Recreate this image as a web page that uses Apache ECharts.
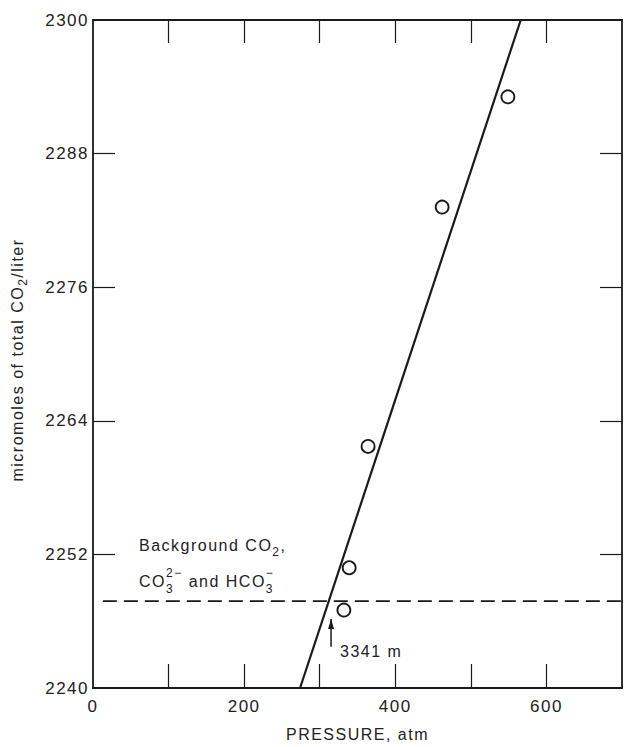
<!DOCTYPE html>
<html>
<head>
<meta charset="utf-8">
<script src="https://cdn.jsdelivr.net/npm/echarts@6/dist/echarts.min.js"></script>
<style>
  html, body { margin: 0; padding: 0; background: #fff; }
  #chart { width: 624px; height: 747px; }
  /* typeset-style tracking for every label */
  #chart svg text { letter-spacing: 1.5px; }
</style>
</head>
<body>
<div id="chart"></div>
<script>
// Measured samples: pressure (atm) and total CO2 (micromoles/liter)
const pressureAtm = [549, 462, 364, 339, 332];
const totalCO2 = [2293.1, 2283.2, 2261.7, 2250.8, 2247.0];

// Fitted line end points
const fitPressure = [274, 566];
const fitCO2 = [2240, 2300];

// Background level (dashed) and the pressure range it spans
const backgroundCO2 = 2247.8;
const backgroundPressure = [13, 700];

// Depth marker (3341 m) arrow
const depthPressure = 315;
const depthArrowCO2 = [2243.7, 2246.2];

// Axis ticks and labels
const xLabelValues = [0, 200, 400, 600];
const xTickValues = [100, 200, 300, 400, 500, 600];
const yLabelValues = [2240, 2252, 2264, 2276, 2288, 2300];
const yTickValues = [2252, 2264, 2276, 2288];

const FONT = 'Liberation Sans';
const INK = '#1a1a1a';
const TEXT = '#222';
const SPACING = 1.5;

const mctx = document.createElement('canvas').getContext('2d');
function textWidth(s, size) {
  mctx.font = size + 'px "' + FONT + '"';
  return mctx.measureText(s).width + SPACING * s.length;
}

// Lay out a run of text pieces (with sub/superscripts) left to right.
function textRun(parts, x0, yMid) {
  const out = [];
  let x = x0;
  let held = 0;
  parts.forEach(p => {
    const w = textWidth(p.t, p.s);
    out.push({
      type: 'text', silent: true, x: x, y: yMid + (p.dy || 0),
      style: {
        text: p.t, fontSize: p.s, fontFamily: FONT, fill: TEXT,
        align: 'left', verticalAlign: 'middle',
        textAlign: 'left', textVerticalAlign: 'middle'
      }
    });
    if (p.hold) { held = w; }
    else { x += Math.max(w, held); held = 0; }
  });
  return { items: out, width: x - x0 };
}

const chart = echarts.init(document.getElementById('chart'), null, { renderer: 'svg' });

const line1 = textRun([
  { t: 'Background CO', s: 16 },
  { t: '2', s: 12, dy: 7 },
  { t: ',', s: 16 }
], 139, 545);

const line2 = textRun([
  { t: 'CO', s: 16 },
  { t: '2\u2212', s: 12, dy: -8, hold: true },
  { t: '3', s: 12, dy: 8 },
  { t: ' and HCO', s: 16 },
  { t: '\u2212', s: 12, dy: -8, hold: true },
  { t: '3', s: 12, dy: 8 }
], 139, 581);

const depthLabel = textRun([{ t: '3341 m', s: 16 }], 340, 651);

// Rotated y-axis title with a subscript
const yTitleParts = [
  { t: 'micromoles of total CO', s: 16 },
  { t: '2', s: 12, dy: 6 },
  { t: '/liter', s: 16 }
];
const yTitleWidth = textRun(yTitleParts, 0, 0).width;
const yTitle = textRun(yTitleParts, -yTitleWidth / 2, 0);

const axisLine = { show: true, onZero: false, lineStyle: { color: INK, width: 1.8 } };
const tickStyle = { color: INK, width: 1.2 };
const labelStyle = { color: TEXT, fontFamily: FONT, fontSize: 17, formatter: v => String(v) };

const option = {
  animation: false,
  grid: { left: 93, right: 2, top: 20, bottom: 57 },
  xAxis: [
    {
      type: 'value', position: 'bottom', min: 0, max: 700,
      axisLine: axisLine,
      axisTick: { show: true, inside: true, length: 24, customValues: xTickValues, lineStyle: tickStyle },
      axisLabel: Object.assign({ customValues: xLabelValues, margin: 10 }, labelStyle),
      splitLine: { show: false },
      name: 'PRESSURE, atm', nameLocation: 'middle', nameGap: 38,
      nameTextStyle: { color: TEXT, fontFamily: FONT, fontSize: 16 }
    },
    {
      type: 'value', position: 'top', min: 0, max: 700,
      axisLine: axisLine,
      axisTick: { show: true, inside: true, length: 23, customValues: xTickValues, lineStyle: tickStyle },
      axisLabel: { show: false },
      splitLine: { show: false }
    }
  ],
  yAxis: [
    {
      type: 'value', position: 'left', min: 2240, max: 2300,
      axisLine: axisLine,
      axisTick: { show: true, inside: true, length: 22, customValues: yTickValues, lineStyle: tickStyle },
      axisLabel: Object.assign({ customValues: yLabelValues, margin: 4 }, labelStyle),
      splitLine: { show: false }
    },
    {
      type: 'value', position: 'right', min: 2240, max: 2300,
      axisLine: axisLine,
      axisTick: { show: true, inside: true, length: 22, customValues: yTickValues, lineStyle: tickStyle },
      axisLabel: { show: false },
      splitLine: { show: false }
    }
  ],
  graphic: [
    ...line1.items,
    ...line2.items,
    ...depthLabel.items,
    { type: 'group', x: 17, y: 360, rotation: Math.PI / 2, silent: true, children: yTitle.items }
  ],
  series: [
    {
      name: 'fit', type: 'line', silent: true, z: 2,
      data: fitPressure.map((p, i) => [p, fitCO2[i]]),
      symbol: 'none',
      lineStyle: { color: INK, width: 2.2 }
    },
    {
      name: 'background', type: 'line', silent: true, z: 2,
      data: backgroundPressure.map(p => [p, backgroundCO2]),
      symbol: 'none',
      lineStyle: { color: INK, width: 1.8, type: [14, 7] }
    },
    {
      name: 'depth', type: 'line', silent: true, z: 2,
      data: [
        { value: [depthPressure, depthArrowCO2[0]], symbol: 'none' },
        { value: [depthPressure, depthArrowCO2[1]], symbol: 'triangle', symbolSize: [6, 10], symbolOffset: [0, 5] }
      ],
      lineStyle: { color: INK, width: 1.5 },
      itemStyle: { color: INK }
    },
    {
      name: 'samples', type: 'scatter', silent: true, z: 3,
      data: pressureAtm.map((p, i) => [p, totalCO2[i]]),
      symbol: 'circle', symbolSize: 13,
      itemStyle: { color: '#fff', borderColor: INK, borderWidth: 1.8, opacity: 1 }
    }
  ]
};

chart.setOption(option);
</script>
</body>
</html>
